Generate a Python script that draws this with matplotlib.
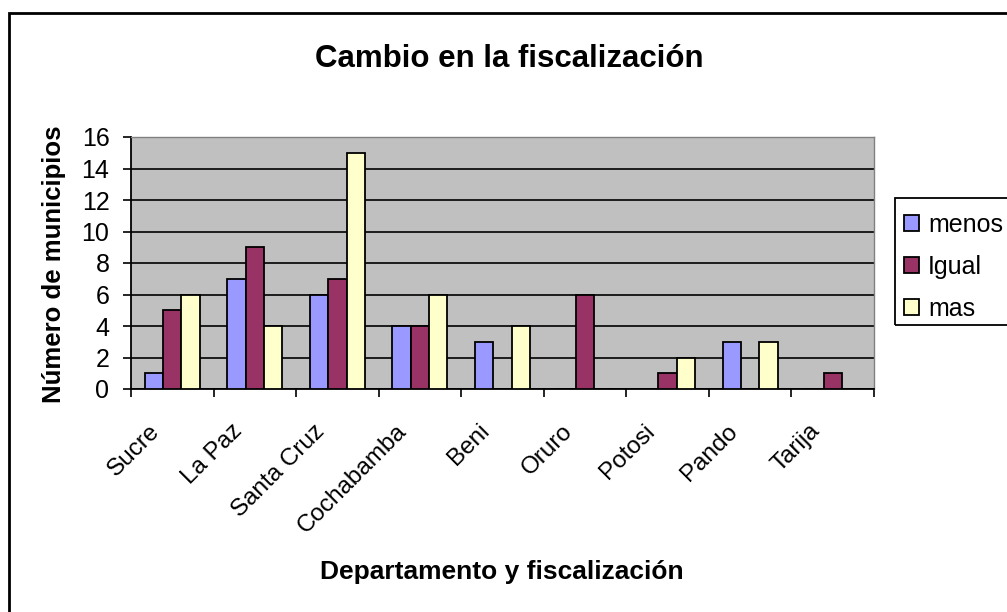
import numpy as np
import matplotlib
matplotlib.use("Agg")
import matplotlib.pyplot as plt
from matplotlib.patches import Rectangle
from matplotlib.transforms import offset_copy

plt.rcParams['font.family'] = ['Liberation Sans', 'DejaVu Sans']

departamentos = ['Sucre', 'La Paz', 'Santa Cruz', 'Cochabamba', 'Beni',
                 'Oruro', 'Potosi', 'Pando', 'Tarija']
menos = [1, 7, 6, 4, 3, 0, 0, 3, 0]
igual = [5, 9, 7, 4, 0, 6, 1, 0, 1]
mas = [6, 4, 15, 6, 4, 0, 2, 3, 0]
series_names = ['menos', 'Igual', 'mas']
colores = ['#9999FF', '#993366', '#FFFFCC']
y_ticks = [0, 2, 4, 6, 8, 10, 12, 14, 16]

fig = plt.figure(figsize=(10.07, 6.12), dpi=100)
W, H = 1007, 612
ax = fig.add_axes([131 / W, 1 - 389 / H, (874 - 131) / W, (389 - 137) / H])
ax.set_facecolor('#C0C0C0')

x = np.arange(len(departamentos))
w = 1 / 4.5
for i, (vals, name, c) in enumerate(zip([menos, igual, mas], series_names, colores)):
    ax.bar(x + (i - 1) * w, vals, width=w, color=c, edgecolor='black',
           linewidth=1.3, label=name, zorder=3)

ax.set_xlim(-0.5, len(departamentos) - 0.5)
ax.set_ylim(0, 16)
ax.set_yticks(y_ticks)
ax.set_yticklabels([str(v) for v in y_ticks], fontsize=18)
ax.yaxis.grid(True, color='black', linewidth=1.2, zorder=1)
ax.set_axisbelow(True)

# ticks at category boundaries, labels drawn at the centres
ax.set_xticks(np.arange(-0.5, len(departamentos)), labels=[])
ax.tick_params(axis='x', length=5.5, width=1.2, direction='out')
ax.tick_params(axis='y', length=5.5, width=1.2, direction='out', pad=10)
lab_tr = offset_copy(ax.get_xaxis_transform(), fig=fig, x=-24, y=-31, units='dots')
for xi, name in zip(x, departamentos):
    ax.text(xi, 0, name, transform=lab_tr, rotation=45, ha='right', va='top',
            rotation_mode='anchor', fontsize=17.5, clip_on=False)

for s in ['left', 'bottom']:
    ax.spines[s].set_color('black')
    ax.spines[s].set_linewidth(1.3)
for s in ['top', 'right']:
    ax.spines[s].set_color('#808080')
    ax.spines[s].set_linewidth(1.0)

fig.text(509 / W, 1 - 67 / H, 'Cambio en la fiscalización', ha='center',
         va='baseline', fontsize=22.5, fontweight='bold')
fig.text(54 / W, 1 - 264 / H, 'Número de municipios', ha='center',
         va='center', rotation=90, fontsize=18.5, fontweight='bold')
fig.text(502 / W, 1 - 572 / H, 'Departamento y fiscalización', ha='center',
         va='center', fontsize=19, fontweight='bold')

# chart border
fig.patches.append(Rectangle((9 / W, -0.1), 1.2, 1 - 12.5 / H + 0.1,
                             transform=fig.transFigure, fill=False,
                             edgecolor='black', linewidth=2))
# legend box
fig.patches.append(Rectangle((895 / W, 1 - 325 / H), 0.2, 127 / H,
                             transform=fig.transFigure, fill=False,
                             edgecolor='black', linewidth=1.3))
leg = fig.legend(loc='upper left', bbox_to_anchor=(904 / W, 1 - 213 / H),
                 frameon=False, fontsize=18, handlelength=0.6,
                 handleheight=0.6, handletextpad=0.36, labelspacing=0.72,
                 borderaxespad=0, borderpad=0)

fig.savefig('out.png', dpi=100)
